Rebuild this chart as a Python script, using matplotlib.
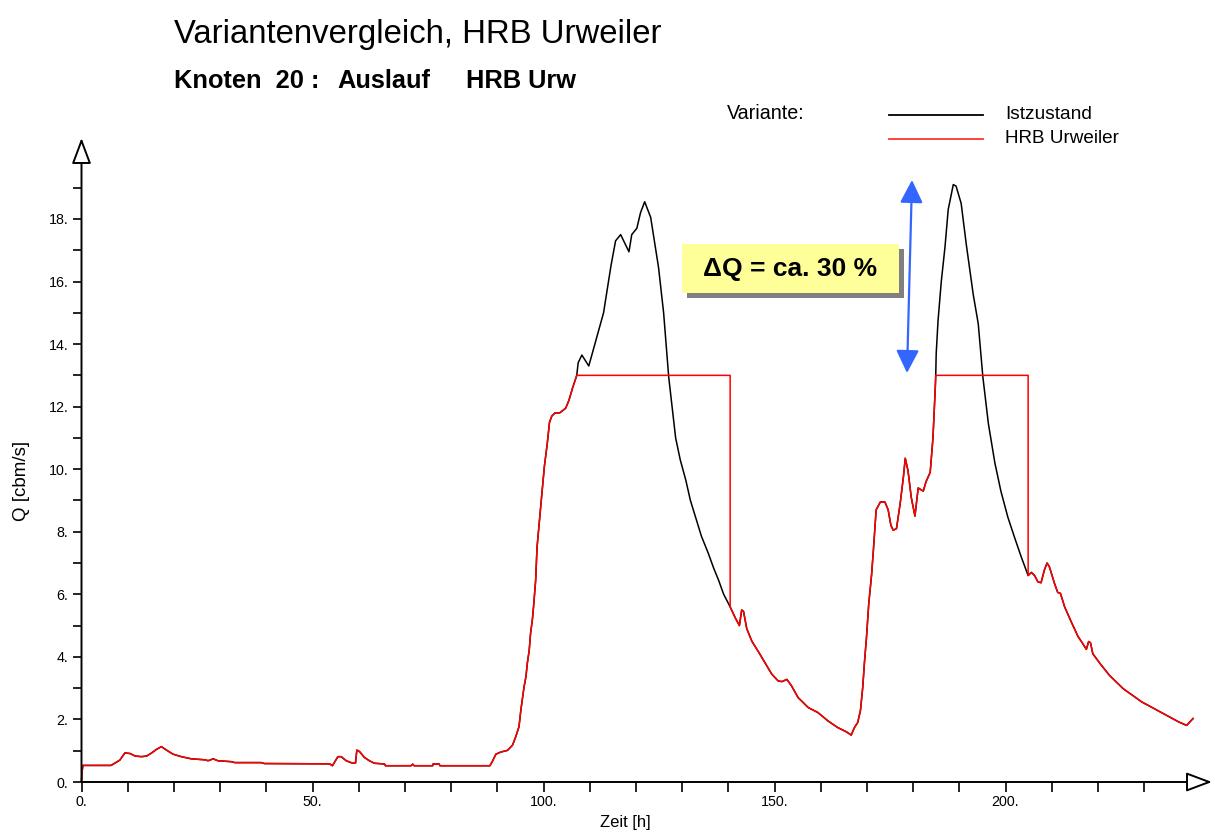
import numpy as np
import matplotlib
matplotlib.use("Agg")
import matplotlib.pyplot as plt
from matplotlib.patches import FancyArrowPatch, Rectangle
from matplotlib.lines import Line2D
from matplotlib.ticker import FuncFormatter

plt.rcParams['font.family'] = ['Liberation Sans', 'DejaVu Sans']

# ---------------- data ----------------
# HRB Urweiler (red)
red_t = [0, 0.1, 0.3, 6.4, 7.2, 8.3, 9.4, 10.5, 11.6, 13.0, 14.1, 15.2, 16.2, 17.3, 18.4,
         19.8, 21.6, 23.8, 26.7, 27.4, 28.5, 29.5, 32.4, 33.2, 38.9, 39.6, 53.7, 54.3, 55.5,
         56.2, 57.3, 58.7, 59.3, 59.6, 60.2, 61.2, 62.3, 63.4, 65.6, 65.8, 71.3, 71.7, 72.0,
         76.0, 76.1, 77.4, 77.6, 88.4, 88.9, 89.7, 90.8, 92.2, 93.3, 94.0, 94.7, 95.1, 95.4,
         95.8, 96.2, 96.5, 96.9, 97.2, 97.6, 97.9, 98.3, 98.6, 99.2, 99.7, 100.2, 100.8,
         101.3, 101.8, 102.5, 103.5, 104.8, 105.5, 106.3, 107.2, 140.4, 140.4, 141.5, 142.4,
         142.9, 143.3, 144.0, 145.1, 146.5, 148.0, 149.4, 150.8, 151.6, 152.7, 153.7, 155.1,
         157.3, 159.4, 161.6, 163.7, 165.6, 166.6, 167.3, 168.0, 168.6, 169.1, 169.5, 169.9,
         170.4, 171.0, 171.4, 172.0, 172.9, 173.9, 174.6, 175.2, 175.7, 176.4, 177.2, 177.9,
         178.3, 178.9, 179.6, 180.4, 181.1, 182.2, 182.8, 183.7, 184.3, 184.8, 184.9, 204.9,
         204.9, 205.6, 206.3, 207.0, 207.7, 208.4, 209.0, 209.5, 210.6, 211.3, 211.9, 212.8,
         214.2, 215.7, 216.7, 217.5, 218.0, 218.4, 218.9, 220.5, 222.5, 225.5, 229.5, 233.5,
         237.5, 239.2, 240.6]
red_q = [0.0, 0.3, 0.53, 0.53, 0.6, 0.7, 0.93, 0.91, 0.83, 0.81, 0.83, 0.93, 1.04, 1.13, 1.02,
         0.89, 0.81, 0.74, 0.71, 0.68, 0.74, 0.68, 0.65, 0.62, 0.62, 0.59, 0.58, 0.52, 0.81,
         0.81, 0.68, 0.6, 0.6, 1.02, 0.97, 0.79, 0.68, 0.6, 0.575, 0.52, 0.52, 0.57, 0.52,
         0.52, 0.575, 0.575, 0.52, 0.52, 0.65, 0.89, 0.96, 1.01, 1.18, 1.45, 1.77, 2.3, 2.62,
         3.05, 3.37, 3.8, 4.2, 4.75, 5.2, 5.7, 6.45, 7.5, 8.5, 9.3, 10.1, 10.8,
         11.5, 11.7, 11.8, 11.8, 11.95, 12.2, 12.6, 13.0, 13.0, 5.6, 5.25, 5.0,
         5.5, 5.45, 4.9, 4.5, 4.17, 3.8, 3.45, 3.23, 3.21, 3.28, 3.07, 2.7,
         2.38, 2.22, 1.95, 1.74, 1.6, 1.5, 1.74, 1.9, 2.28, 3.03, 3.88, 4.6,
         5.7, 6.6, 7.4, 8.7, 8.95, 8.95, 8.7, 8.2, 8.05, 8.1, 8.9, 9.75,
         10.35, 9.95, 9.1, 8.5, 9.4, 9.3, 9.6, 9.9, 11.0, 12.6, 13.0, 13.0,
         6.6, 6.7, 6.6, 6.4, 6.37, 6.77, 7.0, 6.88, 6.35, 6.06, 6.03, 5.6,
         5.13, 4.65, 4.43, 4.24, 4.49, 4.45, 4.1, 3.78, 3.41, 2.98, 2.56, 2.24,
         1.92, 1.81, 2.03]

# Istzustand (black) where it differs from HRB Urweiler
ist_peak1_t = [107.2, 107.5, 108.3, 109.8, 111.3, 113.0, 114.6, 115.6, 116.7, 118.5, 119.1,
               120.2, 121.0, 121.9, 123.2, 124.9, 126.0, 127.1, 128.6, 129.6, 130.8, 131.8,
               132.9, 134.2, 135.7, 136.8, 137.9, 139.0, 140.4]
ist_peak1_q = [13.0, 13.4, 13.65, 13.3, 14.1, 15.0, 16.5, 17.3, 17.5, 16.95, 17.5,
               17.7, 18.2, 18.55, 18.05, 16.45, 15.0, 12.95, 11.0, 10.3, 9.65, 9.0,
               8.47, 7.85, 7.3, 6.85, 6.45, 6.0, 5.6]
ist_peak2_t = [184.9, 185.0, 185.4, 186.1, 186.9, 187.6, 188.7, 189.3, 190.4, 191.5, 193.0,
               194.1, 195.1, 196.3, 197.7, 199.0, 200.5, 202.0, 203.4, 204.9]
ist_peak2_q = [13.0, 13.7, 14.75, 16.0, 17.1, 18.3, 19.1, 19.05, 18.5, 17.2, 15.6,
               14.65, 12.95, 11.45, 10.2, 9.3, 8.47, 7.8, 7.2, 6.6]

y_major = [0, 2, 4, 6, 8, 10, 12, 14, 16, 18]
y_minor = [1, 3, 5, 7, 9, 11, 13, 15, 17, 19]
x_ticks = list(range(0, 231, 10))
x_labelled = [0, 50, 100, 150, 200]

# build full Istzustand series
rt = np.array(red_t); rq = np.array(red_q)
p1t, p1q = np.array(ist_peak1_t), np.array(ist_peak1_q)
p2t, p2q = np.array(ist_peak2_t), np.array(ist_peak2_q)
m0 = rt < p1t[0]
m1 = (rt > p1t[-1]) & (rt < p2t[0])
m2 = rt > p2t[-1]
ist_t = np.concatenate([rt[m0], p1t, rt[m1], p2t, rt[m2]])
ist_q = np.concatenate([rq[m0], p1q, rq[m1], p2q, rq[m2]])

# ---------------- figure ----------------
W, H = 1215, 833
fig = plt.figure(figsize=(W / 100, H / 100), dpi=100)
fx = lambda px: px / W
fy = lambda py: 1 - py / H

x0, y0 = 81.5, 782.0
xtip, ytip = 1212.0, 138.0
ppx = 4.62   # px per hour
ppy = 31.28  # px per cbm/s
ax = fig.add_axes([fx(x0), fy(y0), (xtip - x0) / W, (y0 - ytip) / H])
ax.set_xlim(0, (xtip - x0) / ppx)
ax.set_ylim(0, (y0 - ytip) / ppy)
for s in ax.spines.values():
    s.set_visible(False)

ax.plot(ist_t, ist_q, color='black', lw=1.1, clip_on=False, zorder=3)
ax.plot(rt, rq, color='#ff0000', lw=1.1, clip_on=False, zorder=4)

# axes with open arrow heads
for a, b in [((0, 0), (1, 0)), ((0, 0), (0, 1))]:
    ax.add_patch(FancyArrowPatch(a, b, transform=ax.transAxes,
                                 arrowstyle='-|>,head_length=16,head_width=6',
                                 mutation_scale=1, lw=1.4, ec='black', fc='white',
                                 shrinkA=0, shrinkB=0, clip_on=False, zorder=5))

ax.set_yticks(y_major)
ax.set_yticks(y_minor, minor=True)
ax.yaxis.set_major_formatter(FuncFormatter(lambda v, p: f"{int(round(v))}."))
ax.set_xticks(x_ticks)
ax.xaxis.set_major_formatter(FuncFormatter(
    lambda v, p: f"{int(round(v))}." if int(round(v)) in x_labelled else ""))
ax.tick_params(axis='y', which='both', direction='out', length=6.5, width=1.2,
               labelsize=10.3, pad=3)
ax.tick_params(axis='x', which='both', direction='out', length=7, width=1.2,
               labelsize=10.3, pad=2)

fig.text(fx(22), fy(481), 'Q [cbm/s]', rotation=90, ha='center', va='center', fontsize=13.5)
fig.text(fx(625), fy(823), 'Zeit [h]', ha='center', va='center', fontsize=12)

# titles
fig.text(fx(174), fy(43), 'Variantenvergleich, HRB Urweiler', ha='left', va='baseline',
         fontsize=23.7)
fig.text(fx(174), fy(88), 'Knoten  20 :', ha='left', va='baseline', fontsize=18.3,
         fontweight='bold')
fig.text(fx(337), fy(88), 'Auslauf', ha='left', va='baseline', fontsize=18.3,
         fontweight='bold')
fig.text(fx(466), fy(88), 'HRB Urw', ha='left', va='baseline', fontsize=18.3,
         fontweight='bold')

# legend
fig.text(fx(727), fy(119), 'Variante:', ha='left', va='baseline', fontsize=14.2)
fig.add_artist(Line2D([fx(889), fx(983)], [fy(115), fy(115)], color='black', lw=1.3))
fig.add_artist(Line2D([fx(889), fx(983)], [fy(139), fy(139)], color='#ff3333', lw=1.3))
fig.text(fx(1005), fy(119), 'Istzustand', ha='left', va='baseline', fontsize=13.8)
fig.text(fx(1005), fy(143), 'HRB Urweiler', ha='left', va='baseline', fontsize=13.6)

# annotation box with shadow
fig.add_artist(Rectangle((fx(687), fy(298)), (904 - 687) / W, (298 - 249) / H,
                         transform=fig.transFigure, fc='#808080', ec='none', zorder=6))
fig.add_artist(Rectangle((fx(682), fy(293)), (899 - 682) / W, (293 - 244) / H,
                         transform=fig.transFigure, fc='#ffff99', ec='none', zorder=7))
fig.text(fx(790), fy(269), 'ΔQ = ca. 30 %', ha='center', va='center', fontsize=19,
         fontweight='bold', zorder=8)

# blue double arrow
ax.add_patch(FancyArrowPatch(((912 - x0) / ppx, (y0 - 180) / ppy),
                             ((907 - x0) / ppx, (y0 - 373) / ppy),
                             arrowstyle='<|-|>,head_length=14,head_width=7',
                             mutation_scale=1, lw=1.6, color='#3366ff',
                             shrinkA=0, shrinkB=0, clip_on=False, zorder=6))

fig.savefig('out.png', dpi=100)
